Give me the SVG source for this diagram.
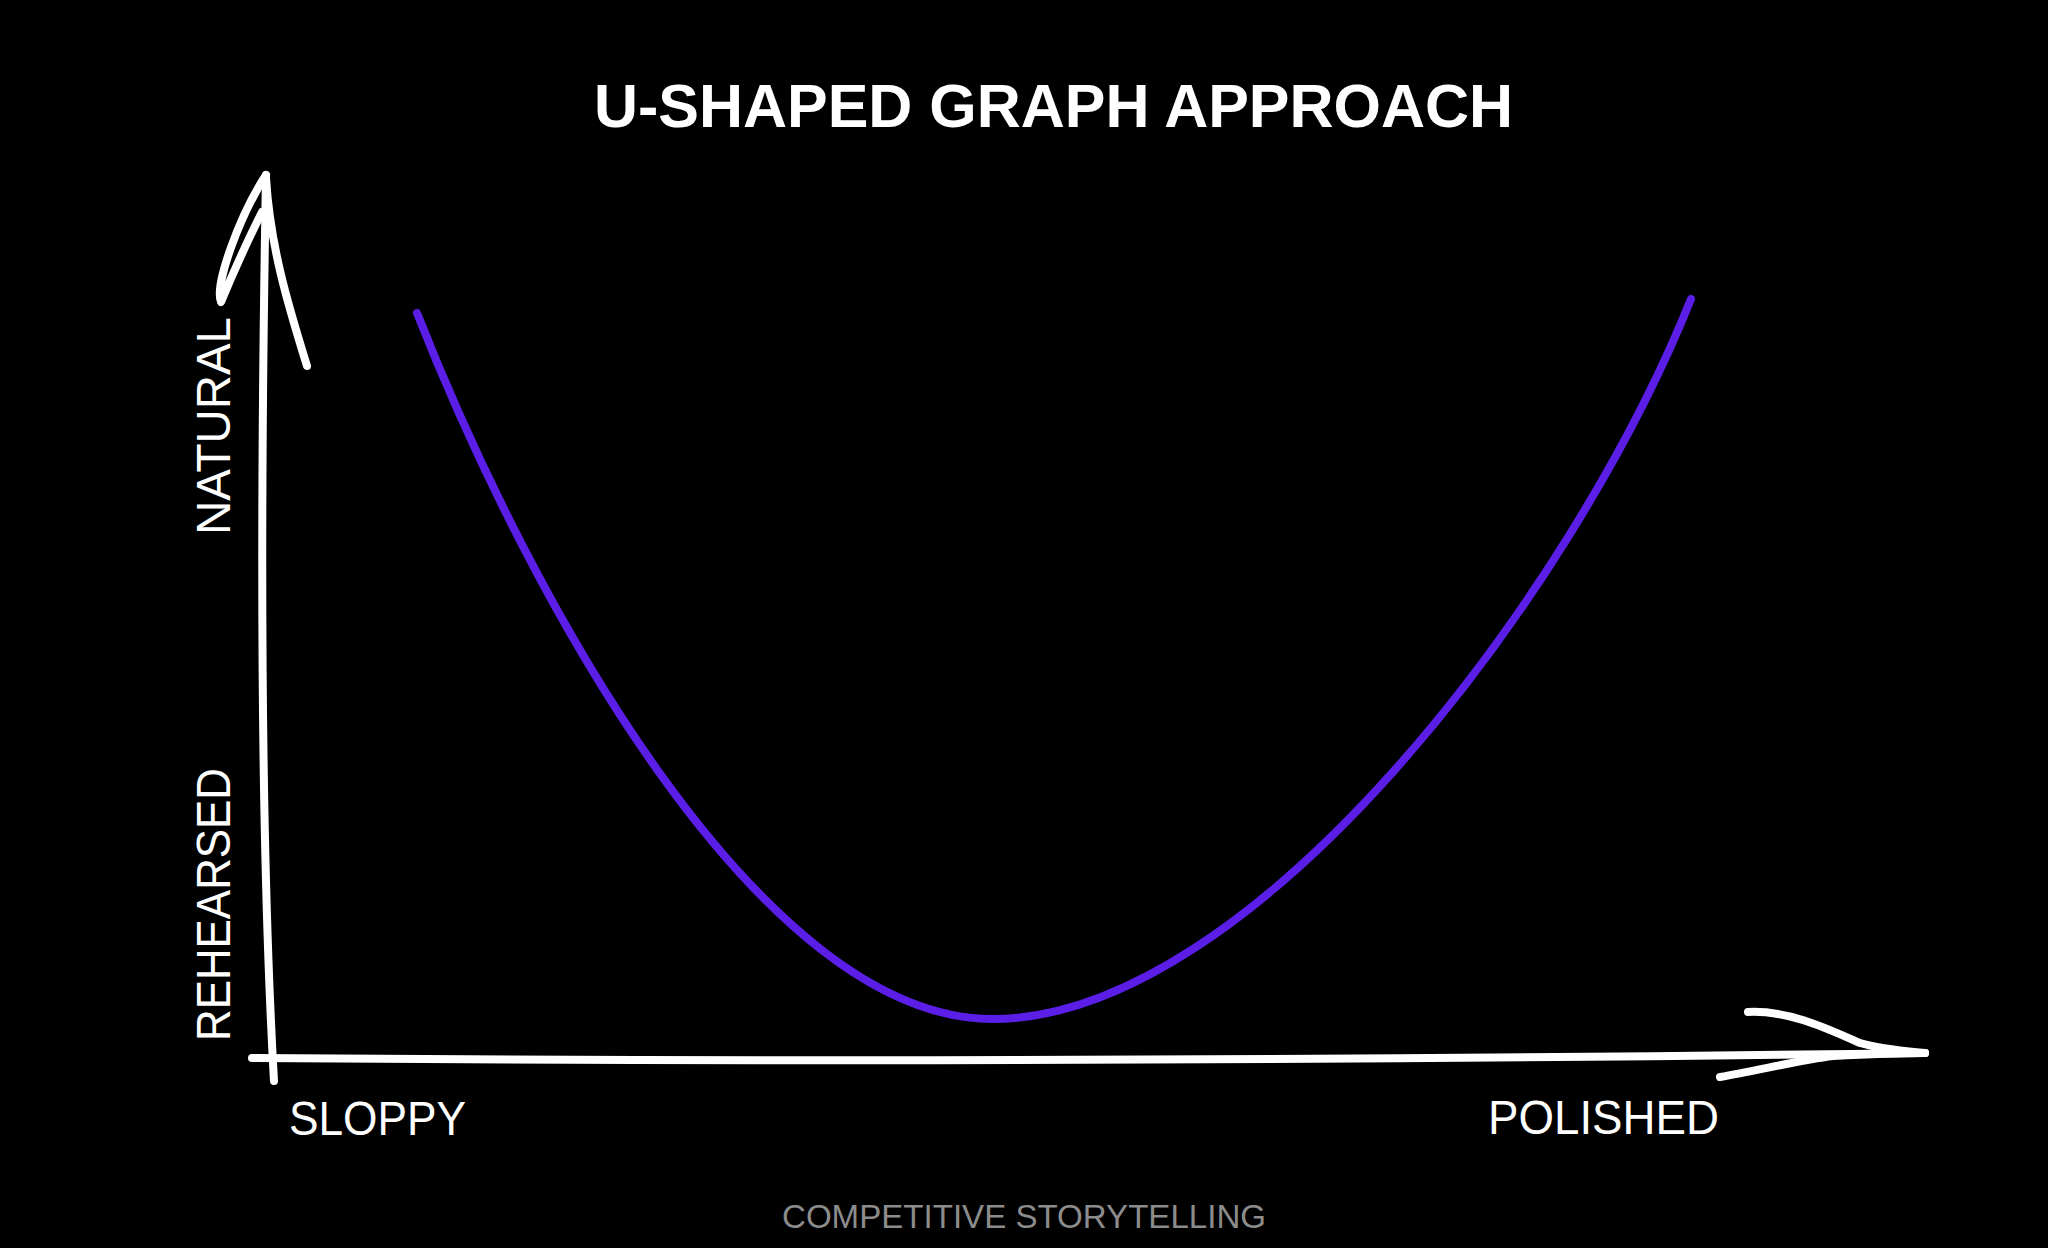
<svg xmlns="http://www.w3.org/2000/svg" width="2048" height="1248" viewBox="0 0 2048 1248">
<style>
.axis{fill:none;stroke:#fff;stroke-width:8;stroke-linecap:round;stroke-linejoin:round}
.lbl{font-family:"Liberation Sans",Arial,sans-serif;fill:#fff;font-size:48px}
.title{font-family:"Liberation Sans",Arial,sans-serif;fill:#fff;font-weight:700;font-size:62px}
.foot{font-family:"Liberation Sans",Arial,sans-serif;fill:#8c8c8c;font-size:33px}
</style>
<rect width="2048" height="1248" fill="#000"/>
<text class="title" x="594" y="127" textLength="919" lengthAdjust="spacingAndGlyphs">U-SHAPED GRAPH APPROACH</text>
<g id="connectors">
<path id="y-axis" class="axis" d="M266,175 C262,400 258,800 274,1081"/>
<path class="axis" d="M266,175 C240,215 214,285 221,302 C228,285 248,240 262,212"/>
<path class="axis" d="M266,178 C270,245 288,305 307,366"/>
<path id="x-axis" class="axis" d="M252,1058 C800,1062 1400,1060 1925,1053"/>
<path class="axis" d="M1748,1012 C1790,1010 1830,1030 1860,1043 C1880,1049 1905,1051 1925,1053"/>
<path class="axis" d="M1720,1077 C1760,1070 1800,1060 1833,1056 C1870,1054 1900,1053 1925,1053"/>
<path id="u-curve" fill="none" stroke="#5a1ee6" stroke-width="8" stroke-linecap="round" d="M417,313 C530,600 760,1019 993,1019 C1250,1019 1571,599 1691,299"/>
</g>
<g id="label-natural"><text class="lbl" transform="translate(230,535) rotate(-90)" textLength="218" lengthAdjust="spacingAndGlyphs">NATURAL</text></g>
<g id="label-rehearsed"><text class="lbl" transform="translate(230,1041) rotate(-90)" textLength="273" lengthAdjust="spacingAndGlyphs">REHEARSED</text></g>
<g id="label-sloppy"><text class="lbl" x="289" y="1135" textLength="177" lengthAdjust="spacingAndGlyphs">SLOPPY</text></g>
<g id="label-polished"><text class="lbl" x="1488" y="1134" textLength="231" lengthAdjust="spacingAndGlyphs">POLISHED</text></g>
<g id="footer"><text class="foot" x="782" y="1228" textLength="484" lengthAdjust="spacingAndGlyphs">COMPETITIVE STORYTELLING</text></g>
</svg>
